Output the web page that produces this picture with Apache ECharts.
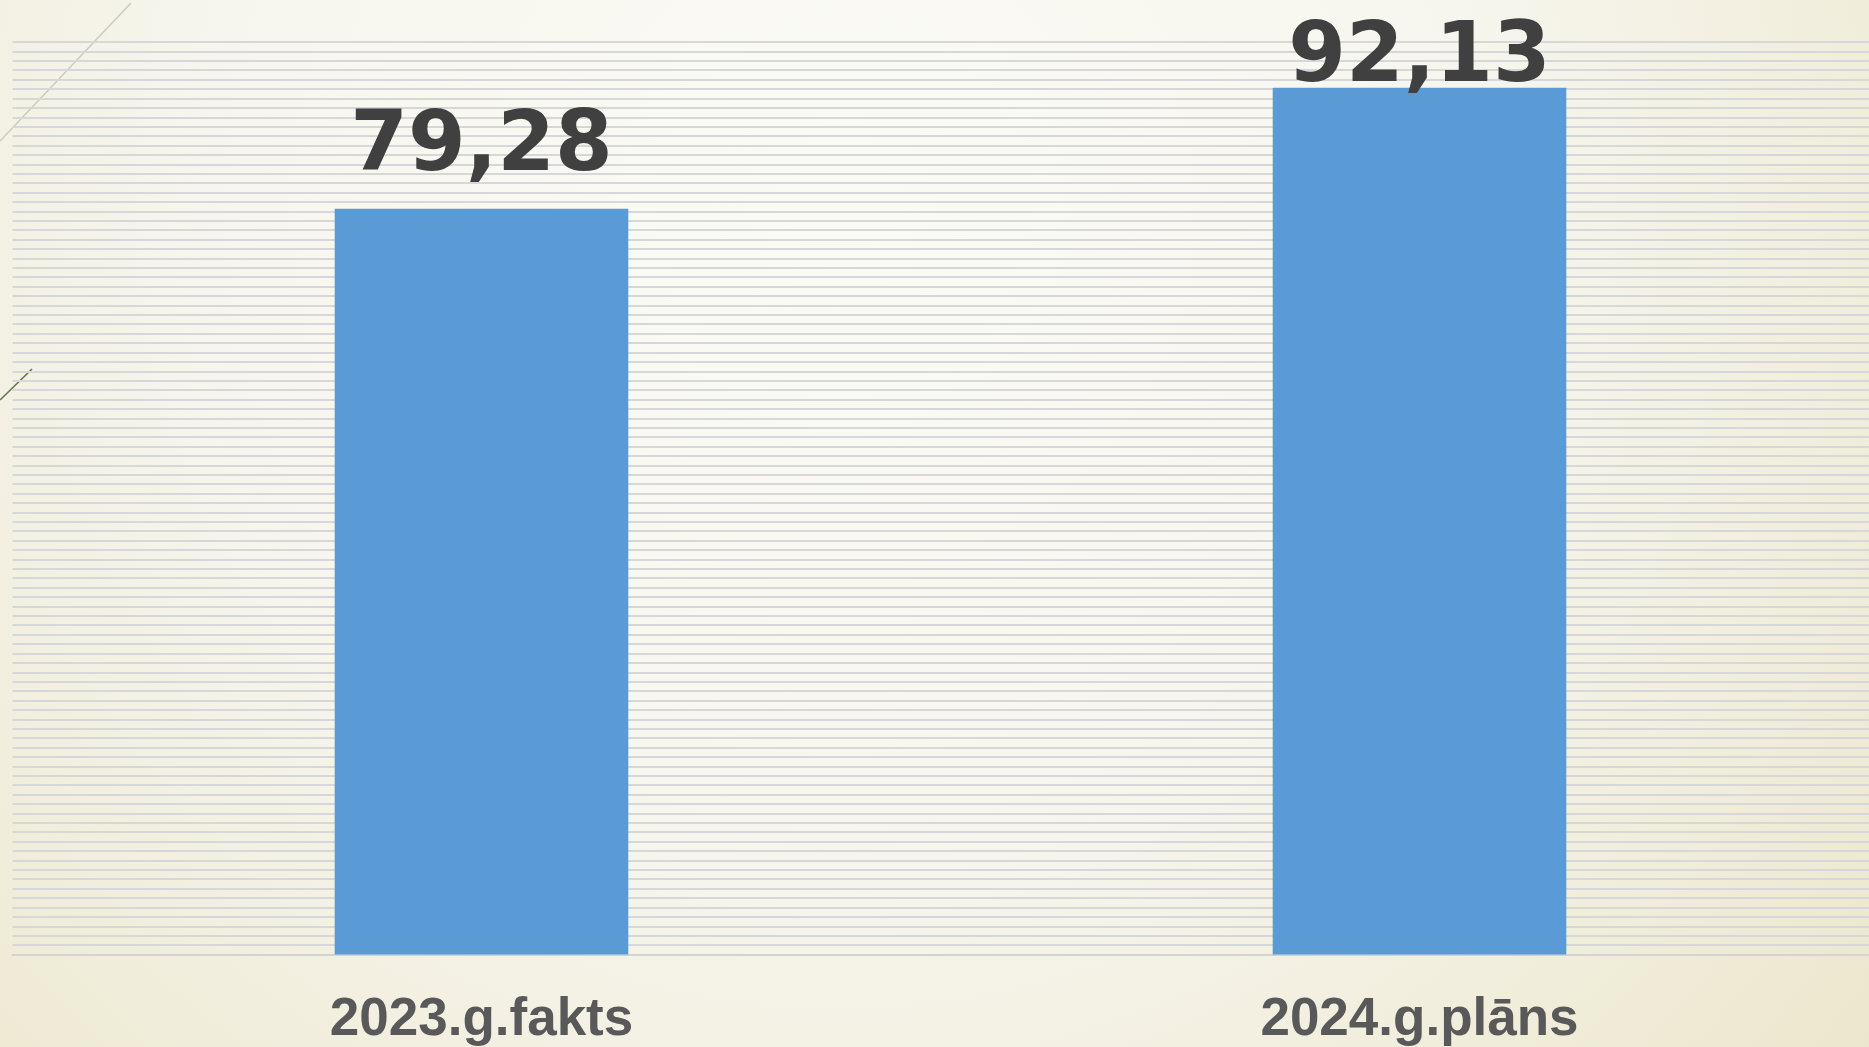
<!DOCTYPE html>
<html>
<head>
<meta charset="utf-8">
<script src="https://cdn.jsdelivr.net/npm/echarts@6/dist/echarts.min.js"></script>
<style>html,body{margin:0;padding:0;}#c{width:1869px;height:1047px;}</style>
</head>
<body>
<div id="c"></div>
<script>
const categories = ['2023.g.fakts', '2024.g.plāns'];
const values = [79.28, 92.13];
const valueLabels = ['79,28', '92,13'];
const axisMin = 0, axisMax = 97, axisInterval = 1;

const labelDistances = [19, -13];

const chart = echarts.init(document.getElementById('c'), null, {renderer: 'canvas'});
chart.setOption({
  animation: false,
  graphic: [
    {type: 'rect', z: -10, silent: true, shape: {x: 0, y: 0, width: 1869, height: 1047},
     style: {fill: {type: 'radial', x: 0.45, y: 0.2, r: 1.35, colorStops: [
       {offset: 0, color: '#fbfbf6'}, {offset: 0.45, color: '#f7f6ee'}, {offset: 1, color: '#eae5c9'}]}}},
    {type: 'line', z: -5, silent: true, shape: {x1: 0, y1: 141, x2: 131, y2: 3},
     style: {stroke: '#c9cdb8', lineWidth: 1.5}},
    {type: 'line', z: -5, silent: true, shape: {x1: 0, y1: 400, x2: 32, y2: 369},
     style: {stroke: '#66744f', lineWidth: 1.6}}
  ],
  grid: {left: 12.5, width: 1876, top: 42, height: 912.5, containLabel: false, outerBoundsMode: 'none'},
  xAxis: {
    type: 'category', data: categories,
    axisLine: {show: true, lineStyle: {color: '#d3d3d3', width: 2}},
    axisTick: {show: false},
    axisLabel: {color: '#595959', fontFamily: 'Liberation Sans', fontWeight: 'bold', fontSize: 53, margin: 39}
  },
  yAxis: {
    type: 'value', min: axisMin, max: axisMax, interval: axisInterval,
    axisLabel: {show: false}, axisLine: {show: false}, axisTick: {show: false},
    splitLine: {show: true, lineStyle: {color: '#d6d7db', width: 2}}
  },
  series: [{
    type: 'bar',
    barWidth: '31.3%',
    itemStyle: {color: '#5b9bd5'},
    data: values.map((v, i) => ({value: v, label: {distance: labelDistances[i]}})),
    label: {
      show: true, position: 'top',
      formatter: p => valueLabels[p.dataIndex],
      color: '#404040', fontFamily: 'DejaVu Sans', fontWeight: 'bold', fontSize: 83
    }
  }]
});
</script>
</body>
</html>
